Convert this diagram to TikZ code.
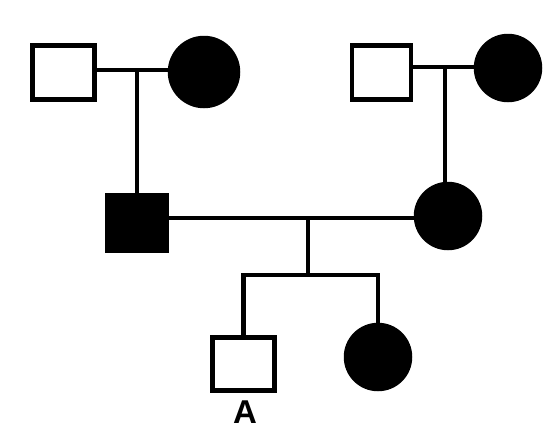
\documentclass[tikz,border=0pt]{standalone}
\usepackage{fontspec}
\setsansfont{Liberation Sans}
\begin{document}
\begin{tikzpicture}[x=1pt,y=-1pt,
  lw/.style={line width=4.5pt},
  male/.style={draw,lw,rectangle,inner sep=0pt,minimum width=62pt,minimum height=54pt},
  female/.style={draw,lw,circle,inner sep=0pt,fill=black},
  aff/.style={fill=black},
  con/.style={lw}]
\useasboundingbox (0,0) rectangle (560,432);
% generation I
\node[male] (tlsq) at (63.5,72.5) {};
\node[female,minimum size=68pt] (tlci) at (204,72) {};
\node[male,minimum width=59pt] (trsq) at (381.5,72.5) {};
\node[female,minimum size=64pt] (trci) at (508,68) {};
% generation II
\node[male,aff,minimum width=59pt,minimum height=55pt] (msq) at (137,223) {};
\node[female,minimum size=64pt] (mci) at (448,216) {};
% generation III
\node[male,minimum height=53pt] (bsq) at (243.5,364) {};
\node[female,minimum size=64pt] (bci) at (378,357) {};
\node[font=\sffamily\bfseries\fontsize{33}{33}\selectfont,inner sep=0pt] (lblA) at (245,412) {A};
% connectors
\coordinate (m1) at (137,70);
\coordinate (m2) at (445,67);
\coordinate (m3) at (308,218);
\coordinate (s) at (308,275);
\coordinate (sl) at (243.5,275);
\coordinate (sr) at (378,275);
\draw[con] (tlsq.east |- m1) -- (tlci.west |- m1);
\draw[con] (m1) -- (msq.north);
\draw[con] (trsq.east |- m2) -- (trci.west |- m2);
\draw[con] (m2) -- (m2 |- mci.north);
\draw[con] (msq.east |- m3) -- (mci.west |- m3);
\draw[con] (m3) -- (s);
\draw[con,line cap=rect] (sl) -- (sr);
\draw[con] (sl) -- (bsq.north);
\draw[con] (sr) -- (bci.north);
\end{tikzpicture}
\end{document}
